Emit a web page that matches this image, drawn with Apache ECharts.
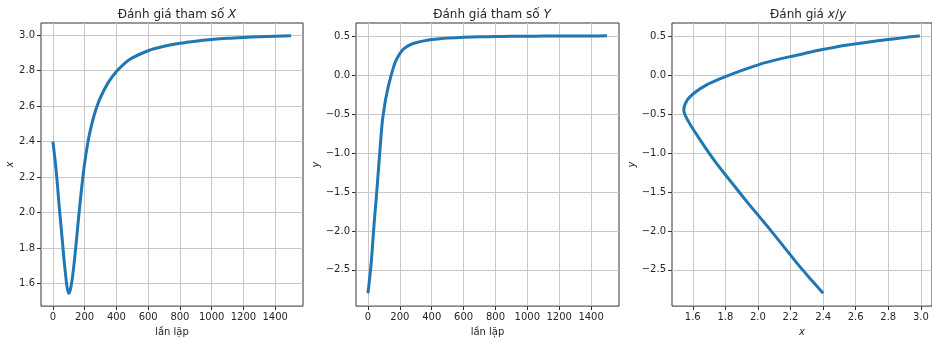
<!DOCTYPE html>
<html>
<head>
<meta charset="utf-8">
<script src="https://cdn.jsdelivr.net/npm/echarts@6/dist/echarts.min.js"></script>
<style>
  html, body { margin: 0; padding: 0; background: #fff; }
  #chart { width: 932px; height: 342px; }
</style>
</head>
<body>
<div id="chart"></div>
<script>
// Iteration index of each recorded estimate
const iterations = [0, 10, 20, 30, 40, 50, 60, 70, 80, 90, 100, 110, 120, 130, 140, 150, 160, 170, 180, 190,
  200, 220, 240, 260, 280, 300, 350, 400, 450, 500, 600, 700, 800, 900, 1000, 1100, 1200, 1300, 1400, 1500];

// Estimate of parameter X at each iteration
const xEstimates = [2.40, 2.324, 2.242, 2.139, 2.03, 1.934, 1.835, 1.734, 1.648, 1.575, 1.545, 1.566, 1.615, 1.685,
  1.77, 1.86, 1.955, 2.045, 2.13, 2.21, 2.28, 2.395, 2.48, 2.55, 2.605, 2.65, 2.735, 2.795, 2.84, 2.872, 2.912,
  2.937, 2.954, 2.966, 2.975, 2.982, 2.987, 2.991, 2.994, 2.996];

// Estimate of parameter Y at each iteration
const yEstimates = [-2.80, -2.62, -2.42, -2.15, -1.87, -1.63, -1.37, -1.10, -0.84, -0.60, -0.45, -0.32, -0.22,
  -0.125, -0.045, 0.03, 0.10, 0.16, 0.205, 0.243, 0.275, 0.328, 0.362, 0.386, 0.403, 0.416, 0.44, 0.456, 0.467,
  0.475, 0.4853, 0.4915, 0.4956, 0.498, 0.4998, 0.501, 0.502, 0.503, 0.5035, 0.504];

// Tick labels
const iterTicks = [0, 200, 400, 600, 800, 1000, 1200, 1400];
const xTicks = [1.6, 1.8, 2.0, 2.2, 2.4, 2.6, 2.8, 3.0];
const yTicks = [-2.5, -2.0, -1.5, -1.0, -0.5, 0.0, 0.5];

const FONT = 'DejaVu Sans';
const BLUE = '#1f77b4';
const TEXT = '#262626';

// 5% padding on each side of the data range
function padded(values) {
  const lo = Math.min(...values), hi = Math.max(...values);
  const m = (hi - lo) * 0.05;
  return { min: lo - m, max: hi + m };
}

const fmt1 = v => (v < 0 ? '\u2212' : '') + Math.abs(v).toFixed(1);
const fmtInt = v => String(Math.round(v));

function valueAxis(gridIndex, ticks, range, formatter, extra) {
  return Object.assign({
    type: 'value',
    gridIndex: gridIndex,
    min: range.min,
    max: range.max,
    axisLine: { show: false, onZero: false },
    axisTick: { show: true, inside: false, length: 4, customValues: ticks, lineStyle: { color: '#333', width: 1 } },
    axisLabel: { customValues: ticks, fontFamily: FONT, fontSize: 10, color: TEXT, margin: 6, formatter: formatter },
    splitLine: { show: true, lineStyle: { color: '#c8c8c8', width: 1 } },
    nameTextStyle: { fontFamily: FONT, fontSize: 10, color: TEXT }
  }, extra);
}

const grids = [
  { left: 41, top: 23, width: 262, height: 290 },
  { left: 356, top: 23, width: 263, height: 290 },
  { left: 672, top: 23, width: 263, height: 290 }
].map(g => Object.assign(g, { show: true, borderColor: '#333', borderWidth: 1, containLabel: false }));

const titleStyle = {
  fontFamily: FONT, fontSize: 12, fontWeight: 'normal', color: TEXT,
  rich: {
    n: { fontFamily: FONT, fontSize: 12, color: TEXT },
    i: { fontFamily: FONT, fontSize: 12, color: TEXT, fontStyle: 'italic' }
  }
};

const italicName = { fontFamily: FONT, fontSize: 10, color: TEXT, fontStyle: 'italic' };

const iterRange = padded(iterations);
const xRange = padded(xEstimates);
const yRange = padded(yEstimates);

const lineStyle = { color: BLUE, width: 3 };

const option = {
  animation: false,
  backgroundColor: '#fff',
  title: [
    { text: '{n|Đánh giá tham số }{i|X}', left: 172, top: 4, textAlign: 'center', textStyle: titleStyle },
    { text: '{n|Đánh giá tham số }{i|Y}', left: 487, top: 4, textAlign: 'center', textStyle: titleStyle },
    { text: '{n|Đánh giá }{i|x}{n|/}{i|y}', left: 803, top: 4, textAlign: 'center', textStyle: titleStyle }
  ],
  grid: grids,
  xAxis: [
    valueAxis(0, iterTicks, iterRange, fmtInt, { name: 'lần lặp', nameLocation: 'middle', nameGap: 18 }),
    valueAxis(1, iterTicks, iterRange, fmtInt, { name: 'lần lặp', nameLocation: 'middle', nameGap: 18 }),
    valueAxis(2, xTicks, xRange, v => v.toFixed(1), { name: 'x', nameLocation: 'middle', nameGap: 18, nameTextStyle: italicName })
  ],
  yAxis: [
    valueAxis(0, xTicks, xRange, v => v.toFixed(1), { name: 'x', nameLocation: 'middle', nameGap: 24, nameRotate: 90, nameTextStyle: italicName }),
    valueAxis(1, yTicks, yRange, fmt1, { name: 'y', nameLocation: 'middle', nameGap: 33, nameRotate: 90, nameTextStyle: italicName }),
    valueAxis(2, yTicks, yRange, fmt1, { name: 'y', nameLocation: 'middle', nameGap: 33, nameRotate: 90, nameTextStyle: italicName })
  ],
  series: [
    {
      type: 'line', xAxisIndex: 0, yAxisIndex: 0, showSymbol: false, smooth: 0.3,
      lineStyle: lineStyle,
      data: iterations.map((t, i) => [t, xEstimates[i]])
    },
    {
      type: 'line', xAxisIndex: 1, yAxisIndex: 1, showSymbol: false, smooth: 0.3,
      lineStyle: lineStyle,
      data: iterations.map((t, i) => [t, yEstimates[i]])
    },
    {
      type: 'line', xAxisIndex: 2, yAxisIndex: 2, showSymbol: false, smooth: 0.3,
      lineStyle: lineStyle,
      data: xEstimates.map((x, i) => [x, yEstimates[i]])
    }
  ]
};

const chart = echarts.init(document.getElementById('chart'), null, { renderer: 'canvas' });
chart.setOption(option);
</script>
</body>
</html>
